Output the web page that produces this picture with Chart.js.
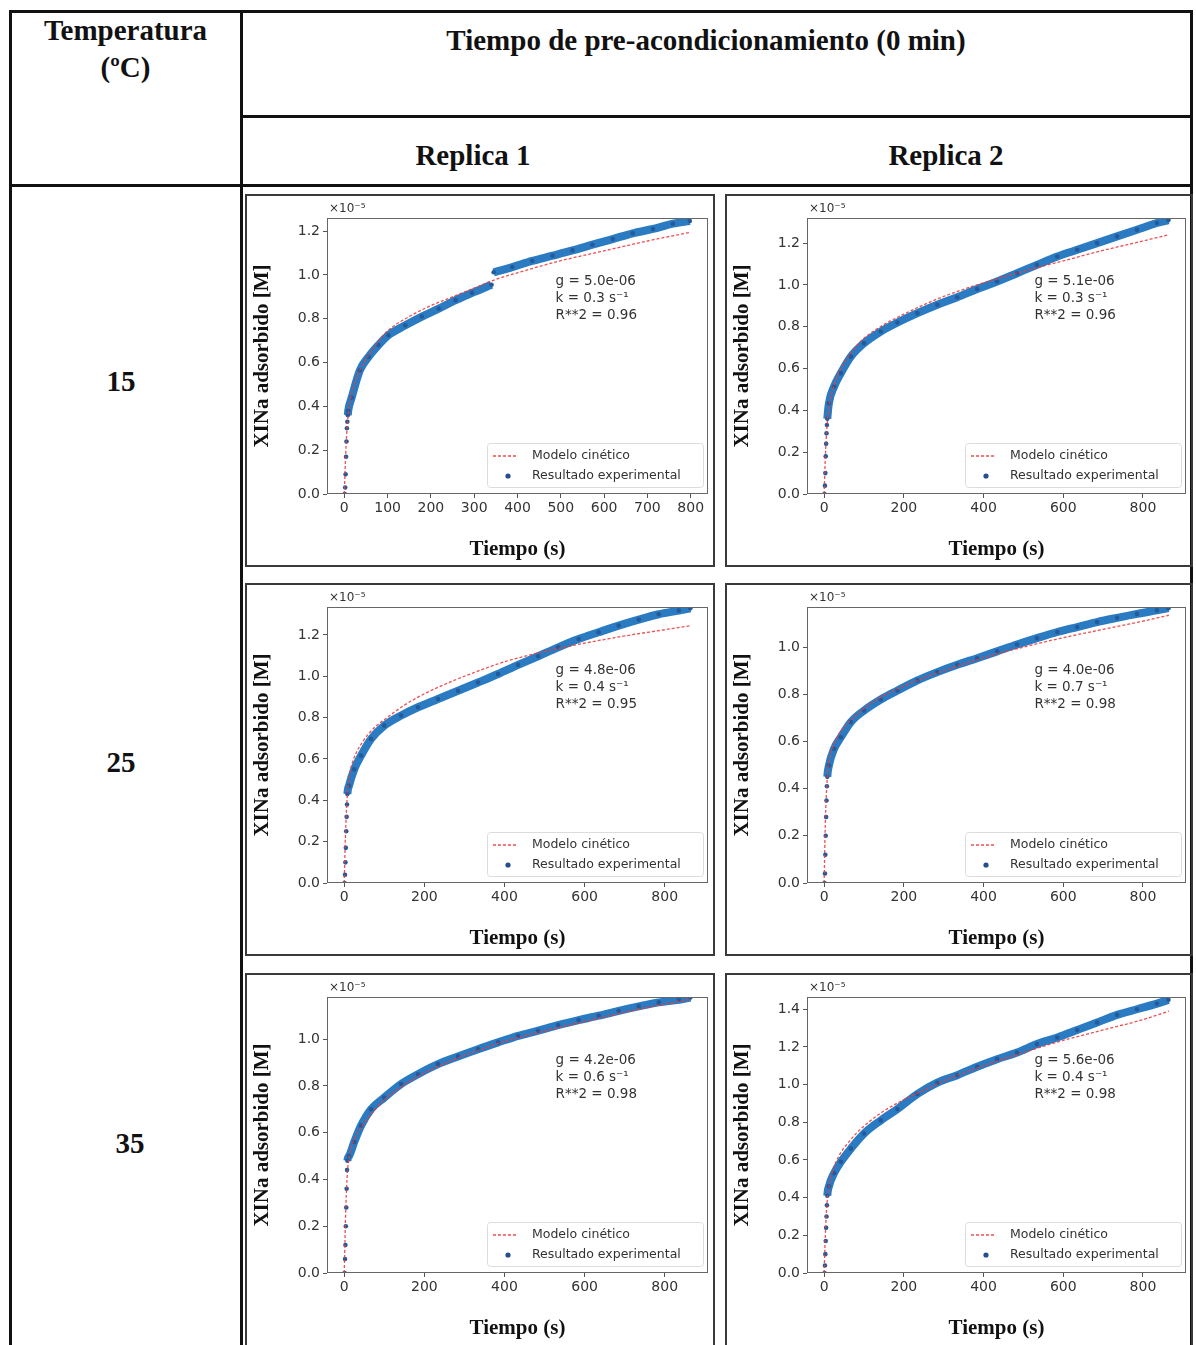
<!DOCTYPE html>
<html>
<head>
<meta charset="utf-8">
<script src="https://cdn.jsdelivr.net/npm/chart.js@4.4.1/dist/chart.umd.min.js"></script>
<style>
  body { margin: 0; background: #fff; width: 1196px; height: 1345px; overflow: hidden; position: relative; }
  .ln { position: absolute; background: #111; }
  .hd { position: absolute; font: bold 29px 'Liberation Serif', 'Times New Roman', serif; color: #111; text-align: center; white-space: nowrap; }
  .box { position: absolute; border: 2px solid #3a3a3a; box-sizing: border-box; height: 373px; }
  .box canvas { display: block; }
</style>
</head>
<body>

<!-- table lines -->
<div class="ln" style="left:9px;top:10px;width:1184px;height:3px"></div>
<div class="ln" style="left:9px;top:10px;width:3px;height:1340px"></div>
<div class="ln" style="left:1190px;top:10px;width:3px;height:1340px"></div>
<div class="ln" style="left:240px;top:10px;width:3px;height:1340px"></div>
<div class="ln" style="left:240px;top:115px;width:953px;height:3px"></div>
<div class="ln" style="left:9px;top:184px;width:1184px;height:3px"></div>

<!-- headers -->
<div class="hd" style="left:11px;width:229px;top:12px;line-height:37px">Temperatura<br>(ºC)</div>
<div class="hd" style="left:243px;width:926px;top:22px;line-height:36px">Tiempo de pre-acondicionamiento (0 min)</div>
<div class="hd" style="left:373px;width:200px;top:137px;line-height:36px">Replica 1</div>
<div class="hd" style="left:846px;width:200px;top:137px;line-height:36px">Replica 2</div>
<div class="hd" style="left:71px;width:100px;top:363px;line-height:36px">15</div>
<div class="hd" style="left:71px;width:100px;top:744px;line-height:36px">25</div>
<div class="hd" style="left:80px;width:100px;top:1125px;line-height:36px">35</div>

<!-- chart boxes -->
<div class="box" style="left:245px;top:194px;width:470px"><canvas id="c15r1" width="466" height="369"></canvas></div>
<div class="box" style="left:725px;top:194px;width:468px"><canvas id="c15r2" width="464" height="369"></canvas></div>
<div class="box" style="left:245px;top:583px;width:470px"><canvas id="c25r1" width="466" height="369"></canvas></div>
<div class="box" style="left:725px;top:583px;width:468px"><canvas id="c25r2" width="464" height="369"></canvas></div>
<div class="box" style="left:245px;top:973px;width:470px;height:378px"><canvas id="c35r1" width="466" height="369"></canvas></div>
<div class="box" style="left:725px;top:973px;width:468px;height:378px"><canvas id="c35r2" width="464" height="369"></canvas></div>

<script>
// ---- data (concentrations in units of 1e-5 M) ----
const xTicks100 = [0, 100, 200, 300, 400, 500, 600, 700, 800];
const xTicks200 = [0, 200, 400, 600, 800];
const yTicks12 = [0, 0.2, 0.4, 0.6, 0.8, 1.0, 1.2];
const yTicks10 = [0, 0.2, 0.4, 0.6, 0.8, 1.0];
const yTicks14 = [0, 0.2, 0.4, 0.6, 0.8, 1.0, 1.2, 1.4];

// experimental time grids (s)
const expTime15r1 = [1, 2, 3, 4, 5, 6, 7, 8, 9, 17, 36, 56, 79, 102, 141, 179, 218, 257, 295, 340, 342, 345, 388, 434, 481, 527, 573, 620, 666, 713, 759, 798];
const expTime = [1, 2, 3, 4, 5, 6, 7, 8, 12, 25, 42, 67, 100, 142, 184, 234, 284, 334, 384, 434, 484, 534, 585, 635, 685, 735, 785, 835, 864];

const exp15r1 = [0, 0.03, 0.09, 0.17, 0.24, 0.30, 0.33, 0.36, 0.38, 0.44, 0.565, 0.626, 0.68, 0.725, 0.77, 0.81, 0.846, 0.885, 0.918, 0.955, null, 1.012, 1.036, 1.064, 1.088, 1.112, 1.138, 1.164, 1.19, 1.21, 1.234, 1.246];
const exp15r2 = [0, 0.04, 0.10, 0.18, 0.24, 0.29, 0.33, 0.36, 0.434, 0.514, 0.578, 0.657, 0.721, 0.777, 0.82, 0.865, 0.905, 0.941, 0.98, 1.016, 1.056, 1.096, 1.136, 1.168, 1.2, 1.232, 1.264, 1.296, 1.31];
const exp25r1 = [0, 0.04, 0.10, 0.17, 0.25, 0.32, 0.38, 0.43, 0.47, 0.55, 0.616, 0.697, 0.761, 0.81, 0.85, 0.89, 0.93, 0.97, 1.011, 1.055, 1.097, 1.14, 1.18, 1.213, 1.245, 1.274, 1.3, 1.318, 1.329];
const exp25r2 = [0, 0.04, 0.12, 0.20, 0.28, 0.35, 0.41, 0.45, 0.498, 0.569, 0.618, 0.682, 0.731, 0.778, 0.816, 0.859, 0.894, 0.925, 0.953, 0.982, 1.011, 1.038, 1.064, 1.085, 1.106, 1.124, 1.141, 1.156, 1.165];
const exp35r1 = [0, 0.06, 0.12, 0.20, 0.28, 0.36, 0.44, 0.48, 0.50, 0.56, 0.63, 0.70, 0.75, 0.808, 0.85, 0.893, 0.926, 0.957, 0.986, 1.014, 1.036, 1.06, 1.081, 1.1, 1.121, 1.14, 1.157, 1.168, 1.178];
const exp35r2 = [0, 0.04, 0.10, 0.17, 0.24, 0.30, 0.36, 0.41, 0.46, 0.53, 0.59, 0.66, 0.74, 0.81, 0.87, 0.95, 1.01, 1.05, 1.095, 1.135, 1.17, 1.215, 1.25, 1.29, 1.33, 1.37, 1.40, 1.43, 1.45];

// kinetic model curves
const modTime15r1 = [0, 2, 4, 6, 8, 10, 15, 20, 30, 45, 60, 80, 100, 150, 200, 250, 300, 350, 400, 500, 600, 700, 800];
const modTime = [0, 2, 4, 6, 8, 10, 15, 20, 30, 45, 60, 80, 100, 150, 200, 250, 300, 400, 500, 600, 700, 800, 865];

const mod15r1 = [0, 0.12, 0.22, 0.29, 0.34, 0.38, 0.44, 0.48, 0.54, 0.6, 0.645, 0.7, 0.745, 0.81, 0.86, 0.9, 0.94, 0.98, 1.01, 1.065, 1.11, 1.155, 1.195];
const mod15r2 = [0, 0.12, 0.22, 0.29, 0.34, 0.38, 0.45, 0.49, 0.55, 0.61, 0.655, 0.705, 0.745, 0.81, 0.86, 0.905, 0.945, 1.01, 1.065, 1.115, 1.165, 1.21, 1.24];
const mod25r1 = [0, 0.16, 0.28, 0.37, 0.43, 0.47, 0.54, 0.58, 0.63, 0.68, 0.72, 0.76, 0.79, 0.86, 0.915, 0.96, 1.0, 1.07, 1.12, 1.16, 1.195, 1.225, 1.245];
const mod25r2 = [0, 0.18, 0.31, 0.39, 0.45, 0.49, 0.54, 0.57, 0.61, 0.65, 0.68, 0.71, 0.74, 0.795, 0.835, 0.87, 0.9, 0.955, 1.0, 1.04, 1.075, 1.11, 1.135];
const mod35r1 = [0, 0.15, 0.28, 0.37, 0.43, 0.47, 0.52, 0.55, 0.59, 0.63, 0.665, 0.705, 0.74, 0.805, 0.855, 0.895, 0.93, 0.99, 1.035, 1.075, 1.115, 1.15, 1.17];
const mod35r2 = [0, 0.14, 0.25, 0.33, 0.39, 0.43, 0.49, 0.53, 0.59, 0.65, 0.69, 0.74, 0.78, 0.86, 0.92, 0.97, 1.02, 1.1, 1.17, 1.235, 1.29, 1.345, 1.39];

// fitted parameters shown in each panel
const fitG = ['5.0e-06', '5.1e-06', '4.8e-06', '4.0e-06', '4.2e-06', '5.6e-06'];
const fitK = ['0.3', '0.3', '0.4', '0.7', '0.6', '0.4'];
const fitR2 = ['0.96', '0.96', '0.95', '0.98', '0.98', '0.98'];

const BAND = '#2a7bc2';
const TICK = '#333';

const toPts = (xs, ys) => xs.map((x, i) => ({ x: x, y: ys[i] }));

// frame, offset text, fit text and legend, drawn matplotlib-style
const decor = {
    id: 'decor',
    afterDatasetsDraw(chart, args, opts) {
        const { ctx, chartArea: a } = chart;
        ctx.save();
        ctx.strokeStyle = '#666';
        ctx.lineWidth = 1;
        ctx.strokeRect(a.left + 0.5, a.top + 0.5, a.right - a.left - 1, a.bottom - a.top - 1);

        ctx.fillStyle = TICK;
        ctx.font = '12px "DejaVu Sans"';
        ctx.textBaseline = 'bottom';
        ctx.fillText('×10⁻⁵', a.left + 2, a.top - 3);

        // fit text
        ctx.font = '13.5px "DejaVu Sans"';
        ctx.textBaseline = 'middle';
        const tx = a.left + 0.6 * (a.right - a.left);
        const lines = ['g = ' + fitG[opts.idx], 'k = ' + fitK[opts.idx] + ' s⁻¹', 'R**2 = ' + fitR2[opts.idx]];
        lines.forEach((t, i) => ctx.fillText(t, tx, a.top + 63 + i * 17));

        // legend
        const ds = chart.data.datasets;
        const w = 216, h = 44;
        const lx = a.right - 5 - w, ly = a.bottom - 7 - h;
        ctx.beginPath();
        ctx.roundRect(lx + 0.5, ly + 0.5, w, h, 3);
        ctx.fillStyle = 'rgba(255,255,255,0.8)';
        ctx.fill();
        ctx.strokeStyle = '#dcdcdc';
        ctx.stroke();

        const r1 = ly + 13, r2 = ly + 33;
        ctx.strokeStyle = ds[0].borderColor;
        ctx.lineWidth = 1.3;
        ctx.setLineDash([3, 2]);
        ctx.beginPath();
        ctx.moveTo(lx + 6, r1);
        ctx.lineTo(lx + 31, r1);
        ctx.stroke();
        ctx.setLineDash([]);
        ctx.fillStyle = '#244f8c';
        ctx.beginPath();
        ctx.arc(lx + 21, r2, 2.6, 0, Math.PI * 2);
        ctx.fill();

        ctx.fillStyle = TICK;
        ctx.font = '12.5px "DejaVu Sans"';
        ctx.fillText(ds[0].label, lx + 45, r1);
        ctx.fillText(ds[1].label, lx + 45, r2);
        ctx.restore();
    }
};

function panel(id, idx, expT, expC, modT, modC, xr, xTicks, ymax, yTicks) {
    new Chart(document.getElementById(id), {
        type: 'scatter',
        data: {
            datasets: [{
                label: 'Modelo cinético',
                data: toPts(modT, modC),
                showLine: true,
                borderColor: 'rgba(236,60,60,0.9)',
                borderWidth: 1.3,
                borderDash: [3, 2],
                pointRadius: 0,
                tension: 0.4,
                cubicInterpolationMode: 'monotone'
            }, {
                label: 'Resultado experimental',
                data: toPts(expT, expC),
                showLine: true,
                borderColor: BAND,
                borderWidth: 8,
                tension: 0.4,
                cubicInterpolationMode: 'monotone',
                pointRadius: 2.3,
                pointBorderWidth: 0,
                pointBackgroundColor: '#245a99',
                segment: {
                    borderColor: c => c.p0.parsed.x < 8 ? 'rgba(0,0,0,0)' : BAND
                }
            }]
        },
        options: {
            responsive: false,
            animation: false,
            devicePixelRatio: 1,
            layout: { padding: { top: 22, right: 5, left: 0, bottom: 0 } },
            plugins: {
                legend: { display: false },
                tooltip: { enabled: false },
                decor: { idx: idx }
            },
            scales: {
                x: {
                    type: 'linear',
                    min: xr[0],
                    max: xr[1],
                    afterFit: s => { s.height = 71; },
                    afterBuildTicks: s => { s.ticks = xTicks.map(v => ({ value: v })); },
                    border: { display: false },
                    grid: { drawOnChartArea: false, drawTicks: true, tickLength: 4, color: '#555' },
                    ticks: { color: TICK, font: { family: 'DejaVu Sans', size: 14 }, padding: 2, maxRotation: 0, callback: v => String(v) },
                    title: { display: true, text: 'Tiempo (s)', color: '#111', font: { family: 'Liberation Serif', size: 21, weight: 'bold' }, padding: { top: 0, bottom: 3 } }
                },
                y: {
                    type: 'linear',
                    min: 0,
                    max: ymax,
                    afterFit: s => { s.width = 80; },
                    afterBuildTicks: s => { s.ticks = yTicks.map(v => ({ value: v })); },
                    border: { display: false },
                    grid: { drawOnChartArea: false, drawTicks: true, tickLength: 4, color: '#555' },
                    ticks: { color: TICK, font: { family: 'DejaVu Sans', size: 14 }, padding: 3, callback: v => v.toFixed(1) },
                    title: { display: true, text: 'XINa adsorbido [M]', color: '#111', font: { family: 'Liberation Serif', size: 21, weight: 'bold' }, padding: { top: 3, bottom: 0 } }
                }
            }
        },
        plugins: [decor]
    });
}

panel('c15r1', 0, expTime15r1, exp15r1, modTime15r1, mod15r1, [-40, 840], xTicks100, 1.26, yTicks12);
panel('c15r2', 1, expTime, exp15r2, modTime, mod15r2, [-43, 908], xTicks200, 1.32, yTicks12);
panel('c25r1', 2, expTime, exp25r1, modTime, mod25r1, [-43, 908], xTicks200, 1.335, yTicks12);
panel('c25r2', 3, expTime, exp25r2, modTime, mod25r2, [-43, 908], xTicks200, 1.17, yTicks10);
panel('c35r1', 4, expTime, exp35r1, modTime, mod35r1, [-43, 908], xTicks200, 1.18, yTicks10);
panel('c35r2', 5, expTime, exp35r2, modTime, mod35r2, [-43, 908], xTicks200, 1.465, yTicks14);
</script>
</body>
</html>
